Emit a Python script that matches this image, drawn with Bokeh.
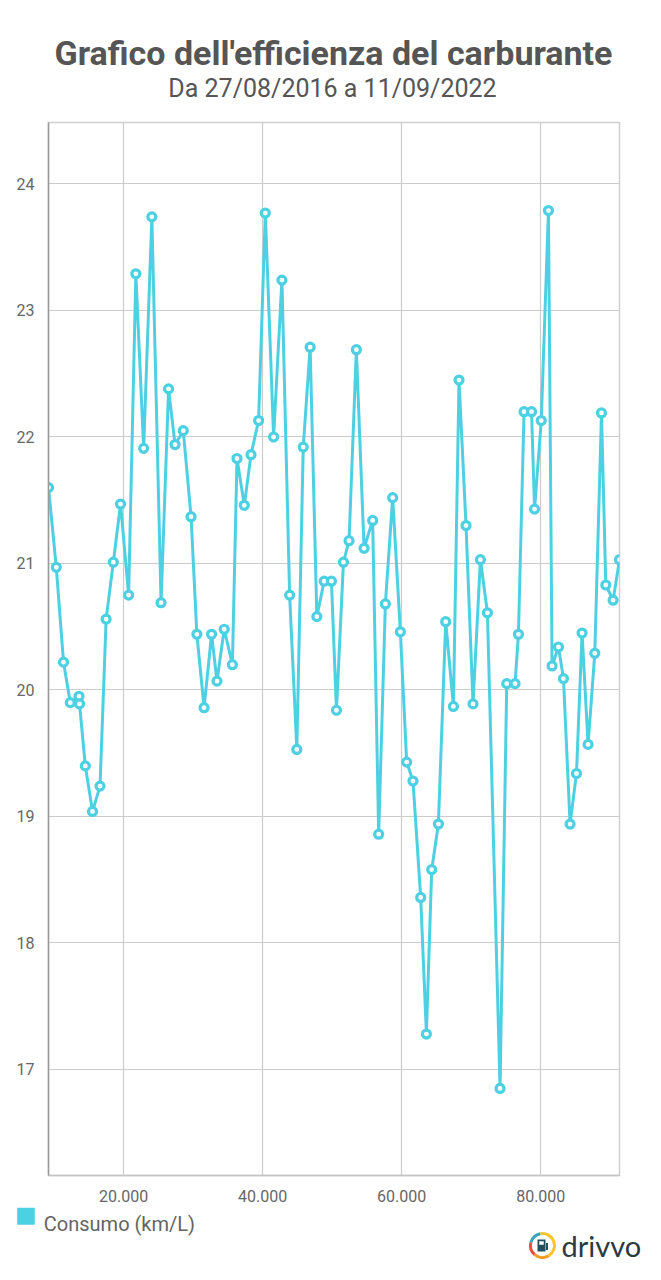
import math
from bokeh.plotting import figure
from bokeh.models import (Range1d, FixedTicker, CustomJSTickFormatter, ColumnDataSource)
from bokeh.layouts import column
from bokeh.embed import file_html
from bokeh.resources import INLINE
from bokeh.core.properties import value

# ---- data (odometer km, fuel efficiency km/L) ----
odometer_km = [9209, 10331, 11367, 12345, 13597, 13669, 14504, 15540, 16619, 17496,
               18532, 19568, 20734, 21770, 22892, 24072, 25396, 26475, 27410, 28590,
               29712, 30547, 31583, 32662, 33439, 34475, 35655, 36317, 37367, 38331,
               39424, 40388, 41583, 42777, 43885, 44921, 45842, 46835, 47799, 48849,
               49899, 50619, 51626, 52432, 53482, 54590, 55827, 56691, 57655, 58705,
               59813, 60719, 61626, 62734, 63554, 64317, 65281, 66331, 67439, 68245,
               69252, 70259, 71324, 72331, 74144, 75108, 76302, 76791, 77597, 78676,
               79108, 80072, 81108, 81626, 82547, 83266, 84216, 85137, 85942, 86806,
               87770, 88734, 89353, 90403, 91324]
consumo_kml = [21.60, 20.97, 20.22, 19.90, 19.95, 19.89, 19.40, 19.04, 19.24, 20.56,
               21.01, 21.47, 20.75, 23.29, 21.91, 23.74, 20.69, 22.38, 21.94, 22.05,
               21.37, 20.44, 19.86, 20.44, 20.07, 20.48, 20.20, 21.83, 21.46, 21.86,
               22.13, 23.77, 22.00, 23.24, 20.75, 19.53, 21.92, 22.71, 20.58, 20.86,
               20.86, 19.84, 21.01, 21.18, 22.69, 21.12, 21.34, 18.86, 20.68, 21.52,
               20.46, 19.43, 19.28, 18.36, 17.28, 18.58, 18.94, 20.54, 19.87, 22.45,
               21.30, 19.89, 21.03, 20.61, 16.85, 20.05, 20.05, 20.44, 22.20, 22.20,
               21.43, 22.13, 23.79, 20.19, 20.34, 20.09, 18.94, 19.34, 20.45, 19.57,
               20.29, 22.19, 20.83, 20.71, 21.03]
x_ticks = [20000, 40000, 60000, 80000]
y_ticks = [17, 18, 19, 20, 21, 22, 23, 24]
title_text = "Grafico dell'efficienza del carburante"
subtitle_text = "Da 27/08/2016 a 11/09/2022"
series_label = "Consumo (km/L)"
logo_text = "drivvo"

CYAN = "#4DD0E1"
FONT = "Roboto"
W = 661


def blank(height):
    f = figure(width=W, height=height, output_backend="svg", toolbar_location=None,
               x_range=Range1d(0, W), y_range=Range1d(0, height),
               min_border=0, min_border_left=0, min_border_right=0,
               min_border_top=0, min_border_bottom=0, frame_align=False)
    f.xaxis.visible = False
    f.yaxis.visible = False
    f.grid.visible = False
    f.outline_line_color = None
    return f


# ---------------- header (title + subtitle) ----------------
HH = 105
hdr = blank(HH)
hdr.text(x=[333], y=[HH - 52.7], text=[title_text], text_font=value(FONT),
         text_font_style="bold", text_font_size="34px", text_color="#555555",
         text_align="center", text_baseline="alphabetic")
hdr.text(x=[332], y=[HH - 88.3], text=[subtitle_text], text_font=value(FONT),
         text_font_size="25px", text_color="#555555",
         text_align="center", text_baseline="alphabetic")

# ---------------- main chart ----------------
src = ColumnDataSource(dict(x=odometer_km, y=consumo_kml))

p = figure(width=W, height=1100, output_backend="svg", toolbar_location=None,
           x_range=Range1d(odometer_km[0], odometer_km[-1]),
           y_range=Range1d(16.162, 24.486), frame_align=False,
           min_border_left=48, min_border_right=42, min_border_top=17, min_border_bottom=30)
p.outline_line_color = "#cfcfcf"
p.outline_line_width = 1.5

line_r = p.line("x", "y", source=src, line_color=CYAN, line_width=3)
pts_r = p.scatter("x", "y", source=src, marker="circle", size=8, line_width=3.2,
                  line_color=CYAN, fill_color="white")

for ax in (p.xaxis[0], p.yaxis[0]):
    ax.major_tick_line_color = None
    ax.minor_tick_line_color = None
    ax.major_label_text_font = FONT
    ax.major_label_text_font_size = "16px"
    ax.major_label_text_color = "#666666"

p.xaxis.ticker = FixedTicker(ticks=x_ticks)
p.yaxis.ticker = FixedTicker(ticks=y_ticks)
p.xaxis.formatter = CustomJSTickFormatter(code="""
return Math.round(tick).toString().replace(/\\B(?=(\\d{3})+(?!\\d))/g, '.');
""")
p.xaxis.axis_line_color = "#c4c4c4"
p.xaxis.axis_line_width = 1.5
p.yaxis.axis_line_color = "#9a9a9a"
p.yaxis.axis_line_width = 1.5
p.xaxis.major_label_standoff = 8
p.yaxis.major_label_standoff = 8

p.xgrid.ticker = FixedTicker(ticks=x_ticks)
p.ygrid.ticker = FixedTicker(ticks=y_ticks)
p.xgrid.grid_line_color = "#cccccc"
p.ygrid.grid_line_color = "#cccccc"
p.xgrid.grid_line_width = 1.2
p.ygrid.grid_line_width = 1.2

# ---------------- footer (legend + logo) ----------------
FH = 75
ftr = blank(FH)
# legend key
ftr.quad(left=[16.7], right=[34.3], bottom=[FH - 19.3], top=[FH - 2.3],
         fill_color=CYAN, line_color=None)
ftr.text(x=[43.3], y=[FH - 18.3], text=[series_label], text_font=value(FONT),
         text_font_size="20px", text_color="#646464",
         text_align="left", text_baseline="alphabetic")

# logo
cx, cy = 542, FH - 40
segs = [(100, 165, "#3aa3b6"), (165, 230, "#e4503c"), (230, 300, "#f29a22"), (300, 460, "#f6c52c")]
for a0, a1, c in segs:
    ftr.annular_wedge(x=[cx], y=[cy], inner_radius=10.5, outer_radius=13.5,
                      start_angle=math.radians(a0), end_angle=math.radians(a1),
                      fill_color=c, line_color=None)
ftr.rect(x=[cx - 1], y=[cy], width=8, height=12, fill_color="#23505c", line_color=None)
ftr.rect(x=[cx - 1], y=[cy + 2.5], width=4.5, height=3.5, fill_color="white", line_color=None)
ftr.rect(x=[cx + 4.5], y=[cy - 1], width=2, height=7, fill_color="#23505c", line_color=None)
ftr.text(x=[561], y=[cy], text=[logo_text], text_font=value("Lato"), text_font_size="29px",
         text_color="#2b3a42", text_baseline="middle", text_align="left")

layout = column(hdr, p, ftr, spacing=0)
open("out.html", "w").write(file_html(layout, INLINE))
